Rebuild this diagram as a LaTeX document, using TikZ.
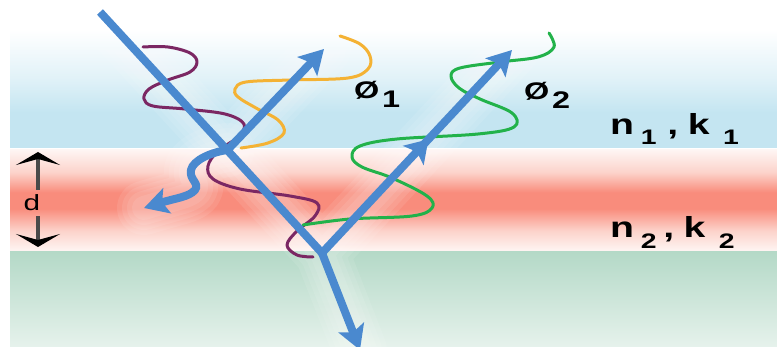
\documentclass[tikz,border=0pt]{standalone}
\usepackage{fontspec}
\usepackage{graphicx}
\setmainfont{Liberation Sans}
\usetikzlibrary{arrows.meta,decorations.markings}

% palette
\definecolor{raycol}{HTML}{4A89CF}
\definecolor{wavein}{HTML}{7B2763}
\definecolor{waveone}{HTML}{F4B234}
\definecolor{wavetwo}{HTML}{22B24A}
\definecolor{skyc}{HTML}{C4E5F1}
\colorlet{skyhalf}{skyc!50!white}
\definecolor{filmc}{HTML}{F98C7C}
\definecolor{filmp}{HTML}{FCD3CB}
\definecolor{filmw}{HTML}{FEF5F3}
\definecolor{subtop}{HTML}{B4D9C7}
\definecolor{subbot}{HTML}{E6F2EC}
\definecolor{dimcol}{HTML}{4A4A4A}

% band shadings (the 25bp..75bp range spans the filled rectangle)
\pgfdeclareverticalshading{skyband}{100bp}{color(0bp)=(skyc); color(25bp)=(skyc); color(40bp)=(skyc); color(55bp)=(skyhalf); color(75bp)=(white); color(100bp)=(white)}
\pgfdeclareverticalshading{filmband}{100bp}{color(0bp)=(filmw); color(25bp)=(filmw); color(35bp)=(filmp); color(46bp)=(filmc); color(54bp)=(filmc); color(64bp)=(filmp); color(75bp)=(filmw); color(100bp)=(filmw)}

% wide heavy lettering
\newcommand{\stretchtxt}[1]{\scalebox{1.35}[1]{#1}}
\newcommand{\lowdigit}[2]{\raisebox{-#1}{\fontsize{21}{22}\selectfont\bfseries #2}}

\begin{document}
\begin{tikzpicture}[x=1pt,y=-1pt,
  ray/.style={draw=raycol, line width=8pt, line cap=round},
  raytip/.style={-{Stealth[length=24pt,width=27pt,inset=5pt]}},
  midtip/.style={decoration={markings, mark=at position 0.56 with {\arrow{Stealth[length=22pt,width=28pt,inset=5pt]}}}, postaction={decorate}},
  wave/.style={line width=3pt, line cap=round, line join=round},
  glow/.style={draw=white, line cap=round, line join=round},
  dimline/.style={draw=dimcol, line width=3.5pt, -{Stealth[length=13pt,width=44pt,inset=6pt,color=black]}},
  biglabel/.style={anchor=base west, inner sep=0pt, font=\fontsize{29}{31}\selectfont\bfseries},
  phaselabel/.style={anchor=base west, inner sep=0pt, font=\fontsize{24}{26}\selectfont\bfseries}]

\useasboundingbox (0,0) rectangle (777,347);
\clip (0,0) rectangle (777,347);

% media: ambient, thin film, substrate
\shade[shading=skyband] (10,30) rectangle (777,148);
\shade[shading=filmband] (10,150) rectangle (777,251);
\shade[top color=subtop, bottom color=subbot] (10,252) rectangle (777,347);

% ray geometry
\coordinate (src) at (100,12);
\coordinate (p1) at (227.5,150);
\coordinate (p2) at (322,253);
\coordinate (r1) at (324,49);
\coordinate (r2) at (512,50);
\coordinate (tr) at (360,350);
\coordinate (ab) at (144,208);

% soft halo behind the rays
\foreach \w in {54,44,34,24} {
  \draw[glow, line width=\w pt, opacity=0.09] (src) -- (p2) (p1) -- (r1) (p2) -- (r2) (p2) -- (tr);
  \draw[glow, line width=\w pt, opacity=0.09] (p1) .. controls (212,152) and (193,160) .. (191,170)
     .. controls (189,180) and (200,183) .. (195,190) .. controls (189,197) and (176,198) .. (ab);
}

% field oscillations
\draw[wave, wavein] plot[smooth, tension=0.6] coordinates {
  (143,47) (168,47) (190,53) (197,62) (190,72) (168,80) (149,89) (144,99) (153,106)
  (185,109) (225,114) (244,124) (238,137) (218,151) (208,166) (213,179) (240,189)
  (290,196) (317,203) (315,216) (297,231) (287,245) (297,255) (313,257)};
\draw[wave, waveone] plot[smooth, tension=0.6] coordinates {
  (241,148) (268,143) (284,133) (278,120) (256,108) (238,97) (235,89) (246,82)
  (290,80) (348,78) (368,69) (370,56) (360,44) (340,36)};
\draw[wave, wavetwo] plot[smooth, tension=0.6] coordinates {
  (303,225) (350,219) (412,216) (432,208) (427,196) (392,178) (362,167) (352,157)
  (360,146) (397,139) (478,134) (514,127) (512,113) (480,99) (459,88) (451,76)
  (460,68) (500,62) (538,57) (554,47) (549,33)};

% rays
\draw[ray, line cap=butt] (src) -- (p2);
\draw[ray, raytip] (p1) -- (r1);
\draw[ray, raytip, midtip] (p2) -- (r2);
\draw[ray, raytip] (p2) -- (tr);
\draw[ray, -{Stealth[length=24pt,width=26pt,inset=5pt]}] (p1) .. controls (212,152) and (193,160) .. (191,170)
   .. controls (189,180) and (200,183) .. (195,190) .. controls (189,197) and (176,198) .. (ab);

% film thickness
\coordinate (dtop) at (38,152);
\coordinate (dbot) at (38,247);
\node[inner xsep=1pt, inner ysep=5pt, font=\fontsize{22}{24}\selectfont] (d) at (32,203) {\stretchtxt{d}};
\draw[dimline] (d.north -| dtop) -- (dtop);
\draw[dimline] (d.south -| dbot) -- (dbot);

% labels
\node[phaselabel] (phione) at (354,99) {\stretchtxt{Ø\hspace{2pt}\raisebox{-9pt}{1}}};
\node[phaselabel] (phitwo) at (524,100) {\stretchtxt{Ø\hspace{2pt}\raisebox{-9pt}{2}}};
\node[biglabel] (nkone) at (610,135) {\stretchtxt{n\hspace{5pt}\lowdigit{10pt}{1}\hspace{8pt},\hspace{7pt}k\hspace{10pt}\lowdigit{10pt}{1}}};
\node[biglabel] (nktwo) at (610,238) {\stretchtxt{n\hspace{5pt}\lowdigit{11pt}{2}\hspace{5pt},\hspace{7pt}k\hspace{10pt}\lowdigit{11pt}{2}}};
\end{tikzpicture}
\end{document}
